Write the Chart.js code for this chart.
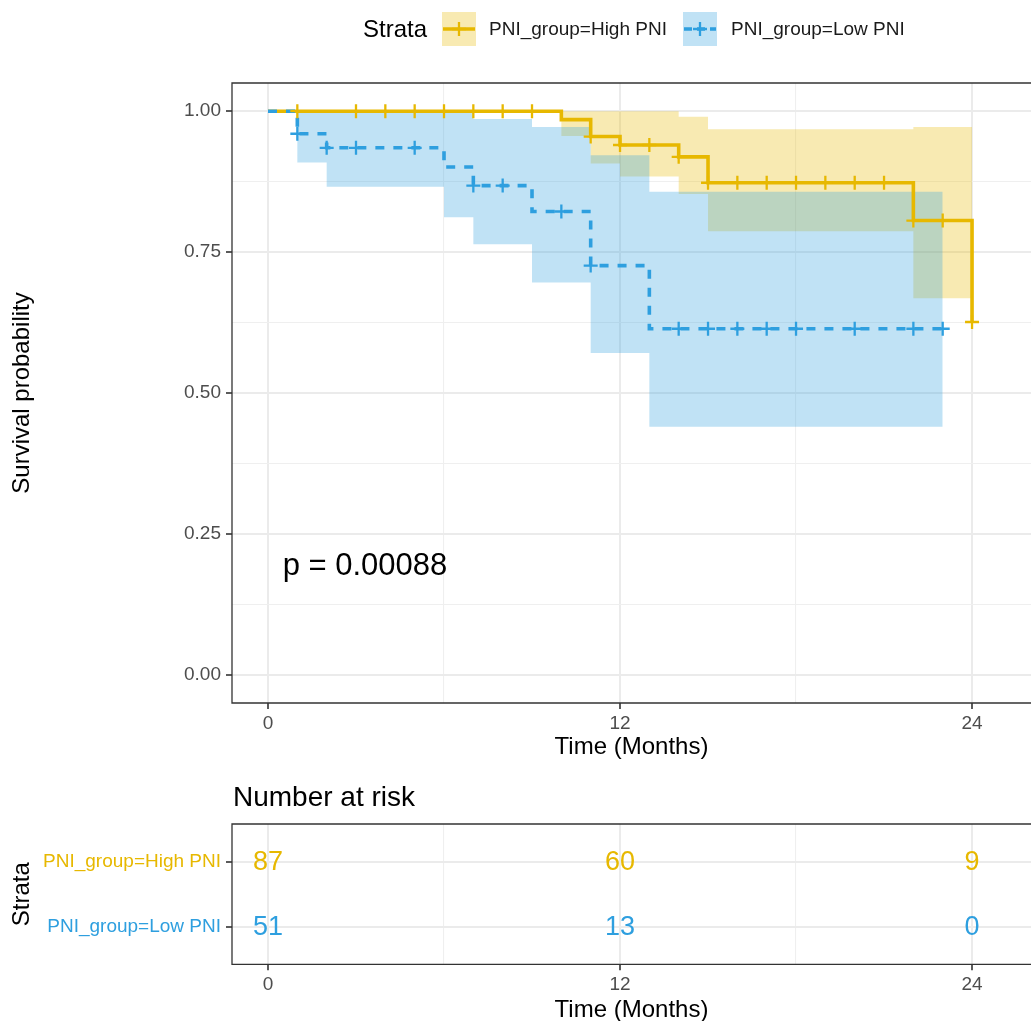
<!DOCTYPE html>
<html><head><meta charset="utf-8">
<script src="https://cdn.jsdelivr.net/npm/chart.js@4.4.1/dist/chart.umd.min.js"></script>
<style>
html,body{margin:0;padding:0;background:#fff;overflow:hidden;width:1031px;height:1021px;}
#main{position:absolute;left:0;top:0;width:1031px;height:770px;}
#risk{position:absolute;left:0;top:770px;width:1031px;height:251px;}
</style></head><body>
<div id="main"><canvas id="c1"></canvas></div>
<div id="risk"><canvas id="c2"></canvas></div>
<script>
const FONT = "'Liberation Sans', Arial, Helvetica, sans-serif";
const HIGH_COLOR = '#E7B800';
const LOW_COLOR = '#2E9FDF';
const HIGH_FILL = 'rgba(231,184,0,0.3)';
const LOW_FILL = 'rgba(46,159,223,0.3)';

const strataNames = ['PNI_group=High PNI', 'PNI_group=Low PNI'];
const legendTitle = 'Strata';

// High PNI Kaplan-Meier estimate (step changes) with 95% CI
const highTimes = [0, 10, 11, 12, 14, 15, 22, 24];
const highSurv  = [1, 0.985, 0.955, 0.940, 0.919, 0.873, 0.806, 0.626];
const highUpper = [1, 1, 1, 1, 0.990, 0.968, 0.972, 0.972];
const highLower = [1, 0.956, 0.907, 0.884, 0.853, 0.787, 0.668, 0.668];
const highCensor = [1, 3, 4, 5, 6, 7, 8, 9, 11, 12, 13, 14, 15, 16, 17, 18, 19, 20, 21, 22, 23, 24];

// Low PNI Kaplan-Meier estimate with 95% CI
const lowTimes = [0, 1, 2, 6, 7, 9, 11, 13, 23];
const lowSurv  = [1, 0.960, 0.935, 0.901, 0.868, 0.822, 0.726, 0.614, 0.614];
const lowUpper = [1, 0.997, 0.997, 0.997, 0.986, 0.972, 0.922, 0.857, 0.857];
const lowLower = [1, 0.909, 0.866, 0.812, 0.764, 0.696, 0.571, 0.440, 0.440];
const lowCensor = [1, 2, 3, 5, 7, 8, 10, 11, 14, 15, 16, 17, 18, 20, 22, 23];

// Axes
const xTicks = [0, 6, 12, 18, 24];
const xMajorTicks = [0, 12, 24];
const yTicks = [0, 0.125, 0.25, 0.375, 0.5, 0.625, 0.75, 0.875, 1];
const yTickLabels = ['0.00', '', '0.25', '', '0.50', '', '0.75', '', '1.00'];

// Number at risk table
const riskTimes = [0, 12, 24];
const riskHigh = [87, 60, 9];
const riskLow = [51, 13, 0];

const pValueText = 'p = 0.00088';
const xTitle = 'Time (Months)';
const yTitle = 'Survival probability';
const riskTitle = 'Number at risk';

const X_MIN = -1.227, X_MAX = 26.01;

function pts(ts, vs) { return ts.map((t, i) => ({ x: t, y: vs[i] })); }
function stepAt(ts, vs, t) { let v = vs[0]; for (let i = 0; i < ts.length; i++) if (ts[i] <= t) v = vs[i]; return v; }
const isMajorX = v => xMajorTicks.includes(v);
const isMajorY = v => Math.abs(v * 4 - Math.round(v * 4)) < 1e-9;

function band(data, fill, color, order) {
  return { data, stepped: 'before', borderColor: 'rgba(0,0,0,0)', borderWidth: 0, pointRadius: 0,
           fill: fill, backgroundColor: color, order };
}

function xScaleOpts(h) {
  return {
    type: 'linear', min: X_MIN, max: X_MAX,
    afterBuildTicks: s => { s.ticks = xTicks.map(v => ({ value: v })); },
    afterFit: s => { s.height = h; },
    border: { display: false },
    grid: {
      color: c => isMajorX(c.tick.value) ? '#EBEBEB' : '#EFEFEF',
      lineWidth: c => isMajorX(c.tick.value) ? 2 : 1.1,
      tickColor: c => isMajorX(c.tick.value) ? '#333333' : 'rgba(0,0,0,0)',
      tickLength: 6, tickWidth: 1.6, drawTicks: true
    },
    ticks: {
      autoSkip: false, maxRotation: 0, minRotation: 0, padding: 3,
      callback: v => isMajorX(v) ? String(v) : '',
      font: { family: FONT, size: 19 }, color: '#4D4D4D'
    }
  };
}

function drawCross(ctx, x, y, r, color, w) {
  ctx.strokeStyle = color; ctx.lineWidth = w;
  ctx.beginPath(); ctx.moveTo(x - r, y); ctx.lineTo(x + r, y); ctx.moveTo(x, y - r); ctx.lineTo(x, y + r); ctx.stroke();
}

const mainDeco = {
  id: 'mainDeco',
  afterDatasetsDraw(chart) {
    const { ctx, chartArea: a, scales } = chart;
    ctx.save();
    // panel border
    ctx.strokeStyle = '#333333'; ctx.lineWidth = 1.3;
    ctx.beginPath();
    ctx.moveTo(a.right + 5, a.top); ctx.lineTo(a.left, a.top); ctx.lineTo(a.left, a.bottom); ctx.lineTo(a.right + 5, a.bottom);
    ctx.stroke();
    // p-value
    ctx.fillStyle = '#000';
    ctx.font = '31px ' + FONT;
    ctx.textAlign = 'left'; ctx.textBaseline = 'middle';
    ctx.fillText(pValueText, scales.x.getPixelForValue(0.5), scales.y.getPixelForValue(0.192));
    ctx.restore();
  },
  afterDraw(chart) {
    const { ctx, chartArea: a } = chart;
    ctx.save();
    ctx.fillStyle = '#000';
    // axis titles
    ctx.font = '24px ' + FONT;
    ctx.textAlign = 'center'; ctx.textBaseline = 'alphabetic';
    ctx.fillText(xTitle, (a.left + a.right) / 2, 754);
    ctx.save();
    ctx.translate(22, (a.top + a.bottom) / 2); ctx.rotate(-Math.PI / 2);
    ctx.textBaseline = 'middle';
    ctx.fillText(yTitle, 0, 0);
    ctx.restore();
    // legend
    ctx.textAlign = 'left'; ctx.textBaseline = 'middle';
    ctx.font = '24px ' + FONT;
    ctx.fillText(legendTitle, 363, 30);
    const keys = [
      { x: 442, color: HIGH_COLOR, fill: HIGH_FILL, dash: [], text: strataNames[0], tx: 489 },
      { x: 683, color: LOW_COLOR, fill: LOW_FILL, dash: [8, 5], text: strataNames[1], tx: 731 }
    ];
    keys.forEach(k => {
      ctx.fillStyle = k.fill; ctx.fillRect(k.x, 12, 34, 34);
      ctx.strokeStyle = k.color; ctx.lineWidth = 3.5; ctx.setLineDash(k.dash);
      ctx.beginPath(); ctx.moveTo(k.x + 1, 29); ctx.lineTo(k.x + 33, 29); ctx.stroke();
      ctx.setLineDash([]);
      drawCross(ctx, k.x + 17, 29, 7, k.color, 2.3);
      ctx.fillStyle = '#1A1A1A'; ctx.font = '19px ' + FONT;
      ctx.fillText(k.text, k.tx, 30);
    });
    ctx.restore();
  }
};

new Chart(document.getElementById('c1'), {
  type: 'line',
  data: {
    datasets: [
      band(pts(highTimes, highUpper), false, HIGH_FILL, 20),
      band(pts(highTimes, highLower), '-1', HIGH_FILL, 19),
      band(pts(lowTimes, lowUpper), false, LOW_FILL, 18),
      band(pts(lowTimes, lowLower), '-1', LOW_FILL, 17),
      { label: strataNames[0], data: pts(highTimes, highSurv), stepped: 'before', borderColor: HIGH_COLOR,
        borderWidth: 3.6, pointRadius: 0, fill: false, order: 6, borderCapStyle: 'butt' },
      { label: strataNames[1], data: pts(lowTimes, lowSurv), stepped: 'before', borderColor: LOW_COLOR,
        borderWidth: 3.6, borderDash: [9, 9], pointRadius: 0, fill: false, order: 5, borderCapStyle: 'butt' },
      { data: highCensor.map(t => ({ x: t, y: stepAt(highTimes, highSurv, t) })), showLine: false,
        pointStyle: 'cross', pointRadius: 7, pointBorderWidth: 2.3, pointBorderColor: HIGH_COLOR, borderColor: HIGH_COLOR, order: 4 },
      { data: lowCensor.map(t => ({ x: t, y: stepAt(lowTimes, lowSurv, t) })), showLine: false,
        pointStyle: 'cross', pointRadius: 7, pointBorderWidth: 2.3, pointBorderColor: LOW_COLOR, borderColor: LOW_COLOR, order: 3 }
    ]
  },
  options: {
    responsive: true, maintainAspectRatio: false, animation: false, events: [],
    devicePixelRatio: 1,
    layout: { autoPadding: false, padding: { top: 83, left: 0, right: 0, bottom: 0 } },
    plugins: { legend: { display: false }, tooltip: { enabled: false }, filler: { propagate: false } },
    scales: {
      x: xScaleOpts(67),
      y: {
        type: 'linear', min: -0.05, max: 1.05,
        afterBuildTicks: s => { s.ticks = yTicks.map(v => ({ value: v })); },
        afterFit: s => { s.width = 232; },
        border: { display: false },
        grid: {
          color: c => isMajorY(c.tick.value) ? '#EBEBEB' : '#EFEFEF',
          lineWidth: c => isMajorY(c.tick.value) ? 2 : 1.1,
          tickColor: c => isMajorY(c.tick.value) ? '#333333' : 'rgba(0,0,0,0)',
          tickLength: 6, tickWidth: 1.6, drawTicks: true
        },
        ticks: {
          autoSkip: false, padding: 5,
          callback: (v, i) => yTickLabels[yTicks.indexOf(v)] || '',
          font: { family: FONT, size: 19 }, color: '#4D4D4D'
        }
      }
    }
  },
  plugins: [mainDeco]
});

const riskDeco = {
  id: 'riskDeco',
  afterDatasetsDraw(chart) {
    const { ctx, chartArea: a } = chart;
    ctx.save();
    const vals = [riskHigh, riskLow];
    const cols = [HIGH_COLOR, LOW_COLOR];
    ctx.font = '27px ' + FONT; ctx.textAlign = 'center'; ctx.textBaseline = 'middle';
    vals.forEach((arr, i) => {
      const meta = chart.getDatasetMeta(i);
      ctx.fillStyle = cols[i];
      meta.data.forEach((pt, j) => ctx.fillText(String(arr[j]), pt.x, pt.y + 1));
    });
    ctx.strokeStyle = '#333333'; ctx.lineWidth = 1.3;
    ctx.beginPath();
    ctx.moveTo(a.right + 5, a.top); ctx.lineTo(a.left, a.top); ctx.lineTo(a.left, a.bottom); ctx.lineTo(a.right + 5, a.bottom);
    ctx.stroke();
    ctx.restore();
  },
  afterDraw(chart) {
    const { ctx, chartArea: a } = chart;
    ctx.save();
    ctx.fillStyle = '#000';
    ctx.font = '28px ' + FONT; ctx.textAlign = 'left'; ctx.textBaseline = 'alphabetic';
    ctx.fillText(riskTitle, 233, 36);
    ctx.font = '24px ' + FONT; ctx.textAlign = 'center';
    ctx.fillText(xTitle, (a.left + a.right) / 2, 247);
    ctx.save();
    ctx.translate(22, (a.top + a.bottom) / 2); ctx.rotate(-Math.PI / 2);
    ctx.textBaseline = 'middle';
    ctx.fillText(legendTitle, 0, 0);
    ctx.restore();
    ctx.restore();
  }
};

new Chart(document.getElementById('c2'), {
  type: 'line',
  data: {
    datasets: [
      { data: riskTimes.map(t => ({ x: t, y: 2 })), showLine: false, pointRadius: 0 },
      { data: riskTimes.map(t => ({ x: t, y: 1 })), showLine: false, pointRadius: 0 }
    ]
  },
  options: {
    responsive: true, maintainAspectRatio: false, animation: false, events: [],
    devicePixelRatio: 1,
    layout: { autoPadding: false, padding: { top: 54, left: 0, right: 0, bottom: 0 } },
    plugins: { legend: { display: false }, tooltip: { enabled: false } },
    scales: {
      x: xScaleOpts(56.7),
      y: {
        type: 'linear', min: 0.42, max: 2.58,
        afterBuildTicks: s => { s.ticks = [{ value: 1 }, { value: 2 }]; },
        afterFit: s => { s.width = 232; },
        border: { display: false },
        grid: { color: '#EBEBEB', lineWidth: 2, tickColor: '#333333', tickLength: 6, tickWidth: 1.6, drawTicks: true },
        ticks: {
          autoSkip: false, padding: 5,
          callback: v => v === 2 ? strataNames[0] : strataNames[1],
          color: c => c.tick.value === 2 ? HIGH_COLOR : LOW_COLOR,
          font: { family: FONT, size: 19 }
        }
      }
    }
  },
  plugins: [riskDeco]
});
</script>
</body></html>
